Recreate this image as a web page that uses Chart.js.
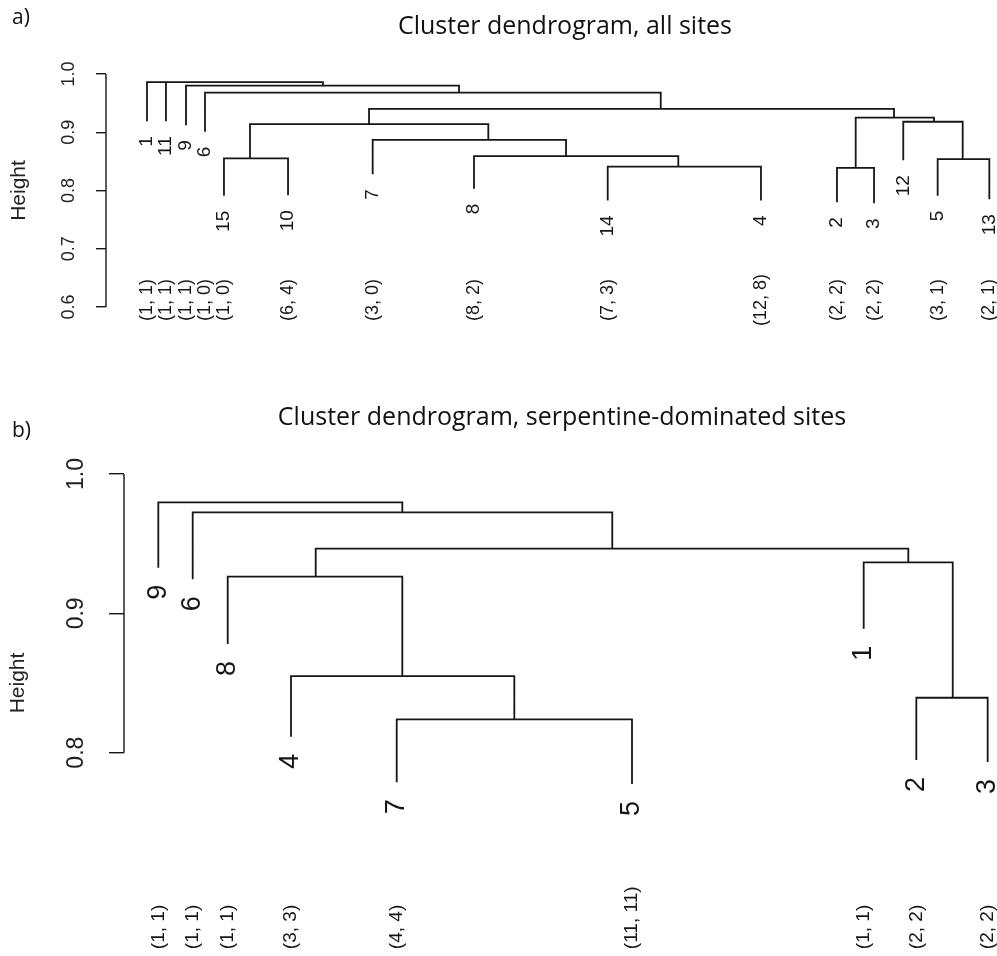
<!DOCTYPE html>
<html>
<head>
<meta charset="utf-8">
<title>Cluster dendrograms</title>
<script src="https://cdn.jsdelivr.net/npm/chart.js@4.4.1/dist/chart.umd.min.js"></script>
<style>
  html, body { margin: 0; padding: 0; background: #fff; }
  #wrap { position: relative; width: 997px; height: 956px; }
  .panel { position: absolute; left: 0; width: 997px; }
  #panelA { top: 0; height: 345px; }
  #panelB { top: 345px; height: 611px; }
</style>
</head>
<body>
<div id="wrap">
  <div class="panel" id="panelA"><canvas id="chartA" width="997" height="345"></canvas></div>
  <div class="panel" id="panelB"><canvas id="chartB" width="997" height="611"></canvas></div>
</div>
<script>
// a) all sites -- leaves in plotted order, x = position across the plot (0-100)
const leafLabelsA = ['1', '11', '9', '6', '15', '10', '7', '8', '14', '4', '2', '3', '12', '5', '13'];
const leafPosA = [4.6, 6.73, 8.98, 11.11, 13.24, 20.43, 29.93, 41.3, 56.31, 73.51, 82.04, 86.2, 89.48, 93.34, 99.14];
const leafEndA = [0.919, 0.919, 0.912, 0.901, 0.791, 0.792, 0.828, 0.803, 0.783, 0.783, 0.780, 0.778, 0.852, 0.791, 0.785];
const siteCountsA = ['(1, 1)', '(1, 1)', '(1, 1)', '(1, 0)', '(1, 0)', '(6, 4)', '(3, 0)', '(8, 2)', '(7, 3)', '(12, 8)', '(2, 2)', '(2, 2)', '', '(3, 1)', '(2, 1)'];
// merges: negative = leaf (1-based, plotted order), positive = earlier merge
const mergeChildrenA = [[-5, -6], [-9, -10], [-11, -12], [-14, -15], [-8, 2], [-7, 5], [1, 6], [-13, 4], [3, 8], [7, 9], [-4, 10], [-3, 11], [-1, -2, 12]];
const mergeHeightA = [0.855, 0.841, 0.839, 0.854, 0.859, 0.887, 0.914, 0.918, 0.925, 0.940, 0.968, 0.980, 0.986];
const mergePosA = [16.16, 64.23, 84.14, 96.15, 51.63, 42.91, 29.52, 92.93, 88.44, 62.26, 39.62, 24.35, null];
const yTicksA = [0.6, 0.7, 0.8, 0.9, 1.0];

// b) serpentine-dominated sites
const leafLabelsB = ['9', '6', '8', '4', '7', '5', '1', '2', '3'];
const leafPosB = [3.93, 7.87, 11.88, 19.13, 31.24, 58.19, 84.73, 90.76, 98.93];
const leafEndB = [0.9327, 0.9244, 0.878, 0.8114, 0.7787, 0.7775, 0.8889, 0.7947, 0.7933];
const siteCountsB = ['(1, 1)', '(1, 1)', '(1, 1)', '(3, 3)', '(4, 4)', '(11, 11)', '(1, 1)', '(2, 2)', '(2, 2)'];
const mergeChildrenB = [[-5, -6], [-8, -9], [-4, 1], [-3, 3], [-7, 2], [4, 5], [-2, 6], [-1, 7]];
const mergeHeightB = [0.8239, 0.8394, 0.855, 0.9263, 0.9366, 0.9464, 0.9725, 0.9797];
const mergePosB = [44.71, 94.93, 31.88, 21.96, 89.84, 55.93, 31.88, null];
const yTicksB = [0.8, 0.9, 1.0];

const INK = '#161616';
const R_FONT = '"Liberation Sans", Arial, sans-serif';
const CAPTION_FONT = '"Open Sans", Lato, sans-serif';

function nodeX(tree, ref) {
  return ref < 0 ? tree.leafPos[-ref - 1] : tree.mergePos[ref - 1];
}
function nodeTop(tree, ref) {
  return ref < 0 ? tree.leafEnd[-ref - 1] : tree.mergeHeight[ref - 1];
}

// turn the merge table into line points, null y breaks the line
function treeSegments(tree) {
  const pts = [];
  tree.children.forEach((kids, i) => {
    const h = tree.mergeHeight[i];
    const sorted = kids.slice().sort((a, b) => nodeX(tree, a) - nodeX(tree, b));
    const first = sorted[0];
    const last = sorted[sorted.length - 1];
    pts.push(
      { x: nodeX(tree, first), y: nodeTop(tree, first) },
      { x: nodeX(tree, first), y: h },
      { x: nodeX(tree, last), y: h },
      { x: nodeX(tree, last), y: nodeTop(tree, last) },
      { x: nodeX(tree, last), y: null }
    );
    sorted.slice(1, -1).forEach(k => {
      pts.push({ x: nodeX(tree, k), y: nodeTop(tree, k) }, { x: nodeX(tree, k), y: h }, { x: nodeX(tree, k), y: null });
    });
  });
  return pts;
}

// R style axis line: only from first to last tick
const axisLinePlugin = {
  id: 'rAxisLine',
  afterDraw(chart) {
    const y = chart.scales.y;
    const vals = y.ticks.map(t => t.value);
    const ctx = chart.ctx;
    ctx.save();
    ctx.strokeStyle = INK;
    ctx.lineWidth = 1.4;
    ctx.beginPath();
    ctx.moveTo(y.right, y.getPixelForValue(Math.min(...vals)));
    ctx.lineTo(y.right, y.getPixelForValue(Math.max(...vals)));
    ctx.stroke();
    ctx.restore();
  }
};

function textPlugin(tree, look) {
  return {
    id: 'dendroText',
    afterDatasetsDraw(chart) {
      const { ctx, scales: { x, y } } = chart;
      ctx.save();
      ctx.fillStyle = INK;
      ctx.textBaseline = 'middle';

      // leaf names hang under each leaf
      ctx.font = look.leafSize + 'px ' + R_FONT;
      ctx.textAlign = 'right';
      tree.leafLabels.forEach((lab, i) => {
        ctx.save();
        ctx.translate(x.getPixelForValue(tree.leafPos[i]), y.getPixelForValue(tree.leafEnd[i]) + look.leafGap);
        ctx.rotate(-Math.PI / 2);
        ctx.fillText(lab, 0, 0);
        ctx.restore();
      });

      // site counts along the bottom
      ctx.font = look.countSize + 'px ' + R_FONT;
      ctx.textAlign = look.countAlign;
      tree.counts.forEach((lab, i) => {
        if (!lab) return;
        ctx.save();
        ctx.translate(x.getPixelForValue(tree.leafPos[i]), y.getPixelForValue(look.countLevel));
        ctx.rotate(-Math.PI / 2);
        ctx.fillText(lab, 0, 0);
        ctx.restore();
      });

      // panel letter and heading
      ctx.textBaseline = 'alphabetic';
      ctx.fillStyle = '#111';
      ctx.textAlign = 'left';
      ctx.font = look.captionSize + 'px ' + CAPTION_FONT;
      ctx.fillText(look.caption, look.captionX, look.captionY);
      ctx.textAlign = 'center';
      ctx.font = look.titleSize + 'px ' + CAPTION_FONT;
      ctx.fillText(look.title, look.titleX, look.titleY);
      ctx.restore();
    }
  };
}

function drawDendrogram(canvasId, tree, look) {
  return new Chart(document.getElementById(canvasId), {
    type: 'line',
    data: {
      datasets: [{
        data: treeSegments(tree),
        borderColor: INK,
        borderWidth: 1.8,
        pointRadius: 0,
        pointHoverRadius: 0,
        tension: 0,
        spanGaps: false,
        fill: false,
        clip: false
      }]
    },
    options: {
      responsive: false,
      animation: false,
      events: [],
      layout: { padding: { top: look.top, bottom: look.bottom, left: 0, right: 0 } },
      plugins: { legend: { display: false }, tooltip: { enabled: false } },
      scales: {
        x: { type: 'linear', min: 0, max: 100, display: false },
        y: {
          type: 'linear',
          min: look.yMin,
          max: look.yMax,
          afterBuildTicks: s => { s.ticks = tree.yTicks.map(v => ({ value: v })); },
          afterFit: s => { s.width = look.axisX; },
          border: { display: false },
          grid: { drawOnChartArea: false, drawTicks: true, tickLength: look.tickLen, color: INK, lineWidth: 1.4 },
          ticks: {
            minRotation: 90,
            maxRotation: 90,
            crossAlign: 'center',
            padding: look.tickPad,
            color: '#222',
            font: { family: R_FONT, size: look.tickSize },
            callback: v => Number(v).toFixed(1)
          },
          title: {
            display: true,
            text: 'Height',
            color: '#222',
            font: { family: R_FONT, size: look.heightSize },
            padding: { top: look.heightPad, bottom: 0 }
          }
        }
      }
    },
    plugins: [axisLinePlugin, textPlugin(tree, look)]
  });
}

drawDendrogram('chartA', {
  leafLabels: leafLabelsA, leafPos: leafPosA, leafEnd: leafEndA, counts: siteCountsA,
  children: mergeChildrenA, mergeHeight: mergeHeightA, mergePos: mergePosA, yTicks: yTicksA
}, {
  top: 74, bottom: 38, axisX: 106, yMin: 0.6, yMax: 1.0,
  tickLen: 10, tickPad: 14, tickSize: 18, heightSize: 21, heightPad: 7,
  leafSize: 19, leafGap: 15, countSize: 18, countLevel: 0.612, countAlign: 'center',
  caption: 'a)', captionX: 12, captionY: 24, captionSize: 21,
  title: 'Cluster dendrogram, all sites', titleX: 565, titleY: 34, titleSize: 25
});

drawDendrogram('chartB', {
  leafLabels: leafLabelsB, leafPos: leafPosB, leafEnd: leafEndB, counts: siteCountsB,
  children: mergeChildrenB, mergeHeight: mergeHeightB, mergePos: mergePosB, yTicks: yTicksB
}, {
  top: 129, bottom: 64, axisX: 124, yMin: 0.7, yMax: 1.0,
  tickLen: 15, tickPad: 16, tickSize: 23, heightSize: 21, heightPad: 6,
  leafSize: 27, leafGap: 17, countSize: 19, countLevel: 0.659, countAlign: 'left',
  caption: 'b)', captionX: 12, captionY: 92, captionSize: 21,
  title: 'Cluster dendrogram, serpentine-dominated sites', titleX: 562, titleY: 80, titleSize: 25
});
</script>
</body>
</html>
